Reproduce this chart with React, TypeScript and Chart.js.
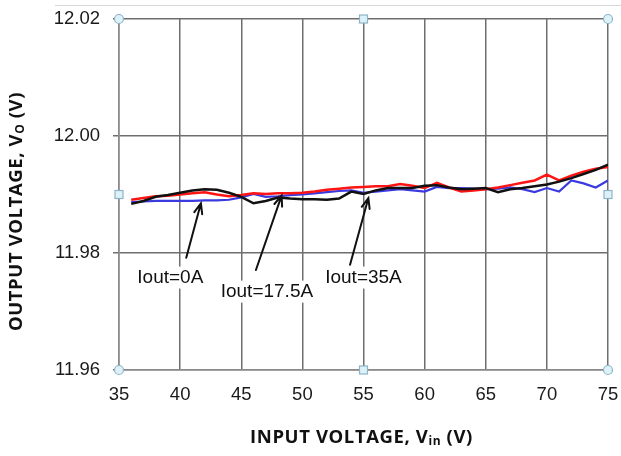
import React, { useEffect, useRef } from "react";
import { Chart, registerables } from "chart.js";

Chart.register(...registerables);

// ---- Data ----
const vin = [36, 37, 38, 39, 40, 41, 42, 43, 44, 45, 46, 47, 48, 49, 50, 51, 52, 53, 54, 55, 56, 57, 58, 59, 60, 61, 62, 63, 64, 65, 66, 67, 68, 69, 70, 71, 72, 73, 74, 75];

const voutBlack = [11.9884, 11.9889, 11.9896, 11.9899, 11.9903, 11.9907, 11.9909, 11.9908, 11.9903, 11.9896, 11.9885, 11.9889, 11.9895, 11.9893, 11.9892, 11.9892, 11.9891, 11.9893, 11.9905, 11.9901, 11.9907, 11.9911, 11.9911, 11.9911, 11.9915, 11.9916, 11.9912, 11.9909, 11.9910, 11.9911, 11.9904, 11.9909, 11.9911, 11.9914, 11.9917, 11.9922, 11.9928, 11.9935, 11.9942, 11.9951];

const voutRed = [11.9891, 11.9894, 11.9897, 11.9898, 11.9900, 11.9902, 11.9904, 11.9900, 11.9897, 11.9899, 11.9902, 11.9901, 11.9902, 11.9902, 11.9903, 11.9905, 11.9908, 11.9910, 11.9912, 11.9913, 11.9914, 11.9914, 11.9918, 11.9915, 11.9911, 11.9920, 11.9912, 11.9905, 11.9907, 11.9909, 11.9912, 11.9916, 11.9920, 11.9924, 11.9934, 11.9924, 11.9932, 11.9939, 11.9944, 11.9947];

const voutBlue = [11.9887, 11.9888, 11.9889, 11.9889, 11.9889, 11.9889, 11.9890, 11.9890, 11.9891, 11.9895, 11.9901, 11.9896, 11.9897, 11.9899, 11.9900, 11.9902, 11.9904, 11.9906, 11.9907, 11.9903, 11.9905, 11.9907, 11.9909, 11.9907, 11.9905, 11.9913, 11.9911, 11.9911, 11.9910, 11.9909, 11.9910, 11.9912, 11.9909, 11.9904, 11.9911, 11.9905, 11.9924, 11.9919, 11.9912, 11.9924];

const xTicks = [35, 40, 45, 50, 55, 60, 65, 70, 75];
const yTicks = [11.96, 11.98, 12.0, 12.02];

const annotationLabels = ["Iout=0A", "Iout=17.5A", "Iout=35A"];
const labelX = [39.2, 47.1, 55.0];
const labelY = [11.9758, 11.9734, 11.9758];
const arrowTailX = [40.5, 46.2, 53.9];
const arrowTailY = [11.9792, 11.9771, 11.978];
const arrowTipX = [41.7, 48.3, 55.4];
const arrowTipY = [11.9885, 11.9898, 11.9894];

const xTitle = ["INPUT VOLTAGE, V", "in", " (V)"];
const yTitle = ["OUTPUT VOLTAGE, V", "O", " (V)"];

const TICK_FONT = "'Liberation Sans', Arial, sans-serif";
const TITLE_FONT = "'Open Sans', 'DejaVu Sans', sans-serif";

function drawSubText(ctx: CanvasRenderingContext2D, parts: string[], cx: number, cy: number, size: number, spacing: number) {
  const main = `bold ${size}px ${TITLE_FONT}`;
  const sub = `bold ${Math.round(size * 0.66)}px ${TITLE_FONT}`;
  (ctx as any).letterSpacing = `${spacing}px`;
  ctx.font = main;
  const w0 = ctx.measureText(parts[0]).width;
  const w2 = ctx.measureText(parts[2]).width;
  ctx.font = sub;
  const w1 = ctx.measureText(parts[1]).width;
  const total = w0 + w1 + w2;
  let x = cx - total / 2;
  ctx.textBaseline = "middle";
  ctx.textAlign = "left";
  ctx.fillStyle = "#111";
  ctx.font = main;
  ctx.fillText(parts[0], x, cy);
  x += w0;
  ctx.font = sub;
  ctx.fillText(parts[1], x, cy + size * 0.22);
  x += w1;
  ctx.font = main;
  ctx.fillText(parts[2], x, cy);
  (ctx as any).letterSpacing = "0px";
}

const decorPlugin = {
  id: "decor",
  beforeDraw(chart: any) {
    const ctx = chart.ctx as CanvasRenderingContext2D;
    ctx.save();
    ctx.fillStyle = "#fff";
    ctx.fillRect(0, 0, chart.width, chart.height);
    ctx.strokeStyle = "#d9d9d9";
    ctx.lineWidth = 1;
    ctx.beginPath();
    ctx.moveTo(55, 5.5);
    ctx.lineTo(chart.width, 5.5);
    ctx.stroke();
    ctx.restore();
  },
  afterDatasetsDraw(chart: any) {
    const ctx = chart.ctx as CanvasRenderingContext2D;
    const xs = chart.scales.x;
    const ys = chart.scales.y;
    ctx.save();
    // arrows
    ctx.strokeStyle = "#111";
    ctx.lineWidth = 2;
    ctx.lineCap = "round";
    for (let i = 0; i < annotationLabels.length; i++) {
      const x1 = xs.getPixelForValue(arrowTailX[i]);
      const y1 = ys.getPixelForValue(arrowTailY[i]);
      const x2 = xs.getPixelForValue(arrowTipX[i]);
      const y2 = ys.getPixelForValue(arrowTipY[i]);
      const ang = Math.atan2(y2 - y1, x2 - x1);
      ctx.beginPath();
      ctx.moveTo(x1, y1);
      ctx.lineTo(x2, y2);
      const hl = 11;
      const ha = 0.38;
      ctx.moveTo(x2 - hl * Math.cos(ang - ha), y2 - hl * Math.sin(ang - ha));
      ctx.lineTo(x2, y2);
      ctx.lineTo(x2 - hl * Math.cos(ang + ha), y2 - hl * Math.sin(ang + ha));
      ctx.stroke();
    }
    // labels with white background
    ctx.font = `19px ${TICK_FONT}`;
    ctx.textAlign = "center";
    ctx.textBaseline = "middle";
    for (let i = 0; i < annotationLabels.length; i++) {
      const cx = xs.getPixelForValue(labelX[i]);
      const cy = ys.getPixelForValue(labelY[i]);
      const w = ctx.measureText(annotationLabels[i]).width;
      ctx.fillStyle = "#fff";
      ctx.fillRect(cx - w / 2 - 2, cy - 11, w + 4, 22);
      ctx.fillStyle = "#111";
      ctx.fillText(annotationLabels[i], cx, cy);
    }
    ctx.restore();
  },
  afterDraw(chart: any) {
    const ctx = chart.ctx as CanvasRenderingContext2D;
    const a = chart.chartArea;
    ctx.save();
    // selection handles
    const cxm = (a.left + a.right) / 2;
    const cym = (a.top + a.bottom) / 2;
    ctx.lineWidth = 1.2;
    ctx.strokeStyle = "#8fb4c7";
    ctx.fillStyle = "#ddf1f8";
    const circles = [[a.left, a.top], [a.right, a.top], [a.left, a.bottom], [a.right, a.bottom]];
    for (const [x, y] of circles) {
      ctx.beginPath();
      ctx.arc(x, y, 4.5, 0, Math.PI * 2);
      ctx.fill();
      ctx.stroke();
    }
    const squares = [[cxm, a.top], [cxm, a.bottom], [a.left, cym], [a.right, cym]];
    for (const [x, y] of squares) {
      ctx.fillRect(x - 4, y - 4, 8, 8);
      ctx.strokeRect(x - 4, y - 4, 8, 8);
    }
    // axis titles
    drawSubText(ctx, xTitle, cxm - 2, 438, 18.5, 0.6);
    ctx.translate(17, cym + 17);
    ctx.rotate(-Math.PI / 2);
    drawSubText(ctx, yTitle, 0, 0, 18.5, 0.6);
    ctx.restore();
  },
};

export default function App() {
  const ref = useRef<HTMLCanvasElement | null>(null);
  useEffect(() => {
    if (!ref.current) return;
    const chart = new Chart(ref.current, {
      type: "line",
      data: {
        datasets: [
          { label: "black", data: vin.map((x, i) => ({ x, y: voutBlack[i] })), borderColor: "#111111", borderWidth: 2.5, pointRadius: 0, tension: 0 },
          { label: "red", data: vin.map((x, i) => ({ x, y: voutRed[i] })), borderColor: "#ff1414", borderWidth: 2.5, pointRadius: 0, tension: 0 },
          { label: "blue", data: vin.map((x, i) => ({ x, y: voutBlue[i] })), borderColor: "#3a3ae0", borderWidth: 2.2, pointRadius: 0, tension: 0 },
        ],
      },
      options: {
        responsive: false,
        animation: false,
        devicePixelRatio: 1,
        layout: { padding: { top: 19, right: 13, left: 0, bottom: 0 } },
        plugins: { legend: { display: false }, tooltip: { enabled: false } },
        scales: {
          x: {
            type: "linear",
            min: 35,
            max: 75,
            afterBuildTicks: (s: any) => { s.ticks = xTicks.map((v) => ({ value: v })); },
            afterFit: (s: any) => { s.height = 86; s.paddingLeft = 0; s.paddingRight = 0; },
            grid: { color: "#6e6e6e", lineWidth: 1.5, drawTicks: false },
            border: { color: "#8a8a8a", width: 1.5 },
            ticks: { color: "#1a1a1a", font: { family: TICK_FONT, size: 18.5 }, padding: 14, maxRotation: 0 },
          },
          y: {
            type: "linear",
            min: 11.96,
            max: 12.02,
            afterBuildTicks: (s: any) => { s.ticks = yTicks.map((v) => ({ value: v })); },
            afterFit: (s: any) => { s.width = 119; s.paddingTop = 0; s.paddingBottom = 0; },
            grid: { color: "#6e6e6e", lineWidth: 1.5, tickLength: 6 },
            border: { color: "#8a8a8a", width: 1.5 },
            ticks: { color: "#1a1a1a", font: { family: TICK_FONT, size: 18.5 }, padding: 13, callback: (v: any) => Number(v).toFixed(2) },
          },
        },
      },
      plugins: [decorPlugin],
    });
    return () => chart.destroy();
  }, []);
  return (
    <div style={{ position: "absolute", left: 0, top: 0, width: 621, height: 456, background: "#fff" }}>
      <canvas ref={ref} width={621} height={456} style={{ display: "block" }} />
    </div>
  );
}
